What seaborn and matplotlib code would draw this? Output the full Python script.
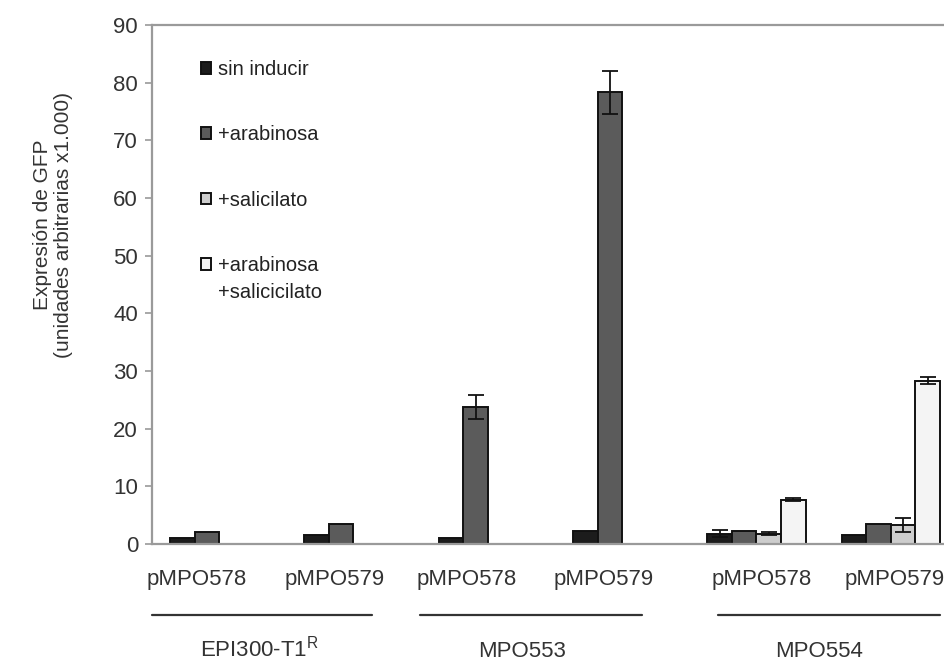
import numpy as np
import pandas as pd
import matplotlib
matplotlib.use("Agg")
import matplotlib.pyplot as plt
import matplotlib.transforms as mtransforms
import seaborn as sns

# ---- data ----
strains = ["EPI300-T1R", "EPI300-T1R", "MPO553", "MPO553", "MPO554", "MPO554"]
plasmids = ["pMPO578", "pMPO579", "pMPO578", "pMPO579", "pMPO578", "pMPO579"]
conditions = ["sin inducir", "+arabinosa", "+salicilato", "+arabinosa +salicicilato"]
legend_lines = [["sin inducir"], ["+arabinosa"], ["+salicilato"], ["+arabinosa", "+salicicilato"]]
nan = np.nan
sin_inducir = [1.0, 1.5, 1.0, 2.3, 1.8, 1.5]
arabinosa = [2.0, 3.4, 23.8, 78.3, 2.3, 3.4]
salicilato = [nan, nan, nan, nan, 1.8, 3.3]
arab_sal = [nan, nan, nan, nan, 7.7, 28.3]
err_sin_inducir = [0, 0, 0, 0, 0.6, 0]
err_arabinosa = [0, 0, 2.1, 3.8, 0, 0]
err_salicilato = [nan, nan, nan, nan, 0.3, 1.2]
err_arab_sal = [nan, nan, nan, nan, 0.2, 0.6]
group_labels = ["EPI300-T1$^{\\mathregular{R}}$", "MPO553", "MPO554"]
yticks = list(range(0, 91, 10))

series = [sin_inducir, arabinosa, salicilato, arab_sal]
errs = [err_sin_inducir, err_arabinosa, err_salicilato, err_arab_sal]
colors = ["#1c1c1c", "#5b5b5b", "#cdcdcd", "#f4f4f4"]

keys = [f"{s}|{p}|{i}" for i, (s, p) in enumerate(zip(strains, plasmids))]
rows = []
for cond, vals, ers in zip(conditions, series, errs):
    for k, v, e in zip(keys, vals, ers):
        if not np.isnan(v):
            rows.append({"key": k, "cond": cond, "value": v, "err": e})
df = pd.DataFrame(rows)

sns.set_theme(style="white")
plt.rcParams["font.family"] = ["Liberation Sans", "DejaVu Sans"]
plt.rcParams["mathtext.default"] = "regular"

fig = plt.figure(figsize=(9.45, 6.62), dpi=100)
ax = fig.add_axes([152 / 945, 118 / 662, 806 / 945, 519 / 662])

sns.barplot(data=df, x="key", y="value", hue="cond", order=keys,
            hue_order=conditions, palette=colors, width=0.73,
            edgecolor="#111111", linewidth=1.4, errorbar=None, ax=ax,
            saturation=1)

# error bars from bar geometry
for cont, cond in zip(ax.containers, conditions):
    sub = df[df["cond"] == cond].set_index("key")
    for bar in cont:
        h = bar.get_height()
        if np.isnan(h):
            continue
        xc = bar.get_x() + bar.get_width() / 2
        cat = int(round(xc))
        k = keys[cat]
        if k not in sub.index:
            continue
        e = sub.loc[k, "err"]
        if e and e > 0:
            ax.errorbar(xc, h, yerr=e, fmt="none", ecolor="#111111",
                        elinewidth=1.3, capsize=6, capthick=1.3, zorder=5)

ax.set_xlim(-0.5, 5.5)
ax.set_ylim(0, 90)
ax.set_yticks(yticks)
ax.set_yticklabels([str(t) for t in yticks], fontsize=16, color="#333333")
ax.set_xticks([])
ax.set_xlabel("")
ax.set_ylabel("")
for sp in ax.spines.values():
    sp.set_color("#9a9a9a")
    sp.set_linewidth(1.6)
ax.tick_params(axis="y", direction="out", length=5, width=1.2,
               color="#9a9a9a", pad=5, left=True)

# category labels
label_x = [-0.17, 0.86, 1.845, 2.86, 4.04, 5.03]
trans = mtransforms.blended_transform_factory(ax.transData, ax.transAxes)
for x, p in zip(label_x, plasmids):
    ax.text(x, -0.069, p, transform=trans, ha="center", va="center",
            fontsize=16, color="#333333", clip_on=False)

# group lines and labels
line_spans = [(-0.5, 1.138), (1.496, 3.149), (3.714, 5.367)]
group_x = [0.30, 2.255, 4.466]
for (a, b), gx, gl in zip(line_spans, group_x, group_labels):
    ax.plot([a, b], [-0.137, -0.137], transform=trans, color="#333333",
            lw=1.6, clip_on=False)
    ax.text(gx, -0.2177, gl, transform=trans, ha="center", va="baseline",
            fontsize=16, color="#333333", clip_on=False)

# legend
handles, _ = ax.get_legend_handles_labels()
first_lines = [ln[0] for ln in legend_lines]
leg = ax.legend(handles, first_lines, loc="upper left",
                bbox_to_anchor=((201 - 152) / 806, (544 - 60) / 519),
                frameon=False, fontsize=14.5, handlelength=0.52,
                handleheight=0.52, handletextpad=0.3, labelspacing=2.3,
                borderpad=0, borderaxespad=0)
for t in leg.get_texts():
    t.set_color("#222222")

# continuation line of the last legend entry
fig.canvas.draw()
last = leg.get_texts()[-1]
bb = last.get_window_extent(renderer=fig.canvas.get_renderer())
inv = fig.transFigure.inverted()
x0, y0 = inv.transform((bb.x0, bb.y0))
for j, extra in enumerate(legend_lines[-1][1:], start=1):
    fig.text(x0, y0 - j * 27 / 662, extra, ha="left", va="bottom",
             fontsize=14.5, color="#222222")

# y label
fig.text(53 / 945, 1 - 225 / 662,
         "Expresión de GFP\n(unidades arbitrarias x1.000)",
         rotation=90, ha="center", va="center", fontsize=15,
         color="#333333", linespacing=1.15, multialignment="center")

fig.savefig("out.png", dpi=100)
